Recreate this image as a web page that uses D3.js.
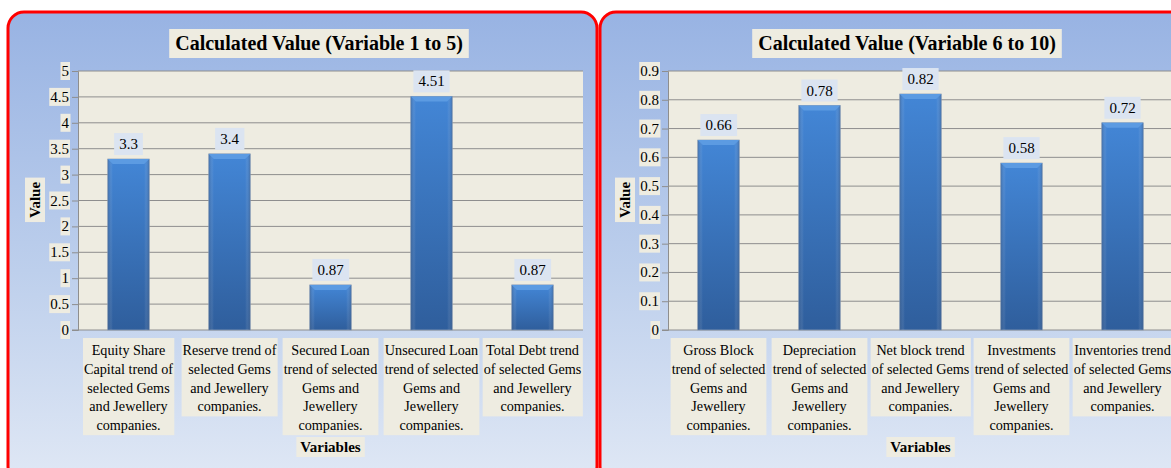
<!DOCTYPE html>
<html>
<head>
<meta charset="utf-8">
<script src="https://cdn.jsdelivr.net/npm/d3@7"></script>
<style>
  body { margin: 0; background: #fff; }
  svg { display: block; font-family: "Liberation Serif", "Times New Roman", serif; }
</style>
</head>
<body>
<div class="chartWrapper"></div>
<script>
const width = 1171, height = 468;

// data
const categoriesA = [
  ["Equity Share", "Capital trend of", "selected Gems", "and Jewellery", "companies."],
  ["Reserve trend of", "selected Gems", "and Jewellery", "companies."],
  ["Secured Loan", "trend of selected", "Gems and", "Jewellery", "companies."],
  ["Unsecured Loan", "trend of selected", "Gems and", "Jewellery", "companies."],
  ["Total Debt trend", "of selected Gems", "and Jewellery", "companies."]
];
const valuesA = [3.3, 3.4, 0.87, 4.51, 0.87];
const ticksA = [0, 0.5, 1, 1.5, 2, 2.5, 3, 3.5, 4, 4.5, 5];

const categoriesB = [
  ["Gross Block", "trend of selected", "Gems and", "Jewellery", "companies."],
  ["Depreciation", "trend of selected", "Gems and", "Jewellery", "companies."],
  ["Net block trend", "of selected Gems", "and Jewellery", "companies."],
  ["Investments", "trend of selected", "Gems and", "Jewellery", "companies."],
  ["Inventories trend", "of selected Gems", "and Jewellery", "companies."]
];
const valuesB = [0.66, 0.78, 0.82, 0.58, 0.72];
const ticksB = [0, 0.1, 0.2, 0.3, 0.4, 0.5, 0.6, 0.7, 0.8, 0.9];

const svg = d3.select(".chartWrapper").append("svg")
  .attr("width", width)
  .attr("height", height);

const defs = svg.append("defs");

const panelGrad = defs.append("linearGradient")
  .attr("id", "panelGrad").attr("x1", 0).attr("y1", 0).attr("x2", 0).attr("y2", 1);
panelGrad.append("stop").attr("offset", "0%").attr("stop-color", "#98b3e3");
panelGrad.append("stop").attr("offset", "55%").attr("stop-color", "#bdcfec");
panelGrad.append("stop").attr("offset", "100%").attr("stop-color", "#e0e8f5");

const barGrad = defs.append("linearGradient")
  .attr("id", "barGrad").attr("x1", 0).attr("y1", 0).attr("x2", 0).attr("y2", 1);
barGrad.append("stop").attr("offset", "0%").attr("stop-color", "#4386d6");
barGrad.append("stop").attr("offset", "100%").attr("stop-color", "#2f5e9c");

const barSide = defs.append("linearGradient")
  .attr("id", "barSide").attr("x1", 0).attr("y1", 0).attr("x2", 1).attr("y2", 0);
barSide.append("stop").attr("offset", "0%").attr("stop-color", "#1f3f6e").attr("stop-opacity", 0.35);
barSide.append("stop").attr("offset", "12%").attr("stop-color", "#ffffff").attr("stop-opacity", 0);
barSide.append("stop").attr("offset", "88%").attr("stop-color", "#ffffff").attr("stop-opacity", 0);
barSide.append("stop").attr("offset", "100%").attr("stop-color", "#1f3f6e").attr("stop-opacity", 0.35);

function textBox(g, x, y, str, opts) {
  const t = g.append("text")
    .attr("x", x).attr("y", y)
    .attr("text-anchor", opts.anchor || "middle")
    .attr("font-size", opts.size)
    .attr("font-weight", opts.weight || "normal")
    .attr("fill", "#000")
    .text(str);
  const bb = t.node().getBBox();
  g.insert("rect", () => t.node())
    .attr("x", bb.x - (opts.padX || 2)).attr("y", bb.y - (opts.padY || 1))
    .attr("width", bb.width + 2 * (opts.padX || 2))
    .attr("height", bb.height + 2 * (opts.padY || 1))
    .attr("fill", opts.fill);
  return t;
}

function drawPanel(p) {
  const g = svg.append("g");

  g.append("rect")
    .attr("x", p.boxX).attr("y", 12)
    .attr("width", p.boxW).attr("height", 470)
    .attr("rx", 16)
    .attr("fill", "url(#panelGrad)")
    .attr("stroke", "#ff0000").attr("stroke-width", 3);

  const x = d3.scaleBand()
    .domain(d3.range(p.values.length))
    .range([p.left, p.right])
    .paddingInner(0.59).paddingOuter(0.295);

  const y = d3.scaleLinear()
    .domain([0, d3.max(p.ticks)])
    .range([330, 71]);

  g.append("rect")
    .attr("x", p.left).attr("y", y.range()[1])
    .attr("width", p.right - p.left).attr("height", y.range()[0] - y.range()[1])
    .attr("fill", "#eeece1");

  g.append("g")
    .selectAll("line")
    .data(p.ticks.slice(1))
    .join("line")
    .attr("x1", p.left).attr("x2", p.right)
    .attr("y1", d => y(d)).attr("y2", d => y(d))
    .attr("stroke", "#8e8e8e").attr("stroke-width", 1);

  // y axis
  const yAxis = g.append("g")
    .attr("transform", `translate(${p.left},0)`)
    .call(d3.axisLeft(y).tickValues(p.ticks).tickSize(6).tickFormat(d3.format("~g")));
  yAxis.select(".domain").attr("stroke", "#8e8e8e");
  yAxis.selectAll(".tick line").attr("stroke", "#8e8e8e");
  yAxis.selectAll(".tick text").remove();
  p.ticks.forEach(t => {
    textBox(g, p.left - 9, y(t) + 5, d3.format("~g")(t), {
      anchor: "end", size: 15, fill: "#eeece1", padX: 1, padY: 0
    });
  });

  g.append("line")
    .attr("x1", p.left - 6).attr("x2", p.right)
    .attr("y1", y(0)).attr("y2", y(0))
    .attr("stroke", "#8e8e8e");

  // bars
  const bars = g.append("g").selectAll("g")
    .data(p.values)
    .join("g");

  bars.append("rect")
    .attr("x", (d, i) => x(i)).attr("y", d => y(d))
    .attr("width", x.bandwidth()).attr("height", d => y(0) - y(d))
    .attr("fill", "url(#barGrad)")
    .attr("stroke", "#8a9cb5").attr("stroke-width", 0.8);
  bars.append("rect")
    .attr("x", (d, i) => x(i)).attr("y", d => y(d))
    .attr("width", x.bandwidth()).attr("height", d => y(0) - y(d))
    .attr("fill", "url(#barSide)");
  bars.append("path")
    .attr("d", (d, i) => {
      const x0 = x(i), x1 = x(i) + x.bandwidth(), y0 = y(d);
      return `M${x0},${y0}L${x1},${y0}L${x1 - 5},${y0 + 5}L${x0 + 5},${y0 + 5}Z`;
    })
    .attr("fill", "#5c9be2");

  p.values.forEach((v, i) => {
    textBox(g, x(i) + x.bandwidth() / 2, y(v) - 10, d3.format("~g")(v), {
      size: 15, fill: "#dbe4f1", padX: 5, padY: 3
    });
  });

  // category labels
  const lineH = 18.8;
  p.cats.forEach((lines, i) => {
    const cx = x(i) + x.bandwidth() / 2;
    const lg = g.append("g");
    const t = lg.append("text")
      .attr("text-anchor", "middle")
      .attr("font-size", 14.2)
      .attr("fill", "#000");
    lines.forEach((ln, k) => {
      t.append("tspan").attr("x", cx).attr("y", 355 + k * lineH).text(ln);
    });
    const bb = t.node().getBBox();
    lg.insert("rect", "text")
      .attr("x", bb.x - 1).attr("y", 338)
      .attr("width", bb.width + 2).attr("height", bb.y + bb.height - 338 + 2)
      .attr("fill", "#eeece1");
  });

  // titles
  textBox(g, p.titleX, 50, p.title, {
    size: 20, weight: "bold", fill: "#eeece1", padX: 6, padY: 3
  });
  textBox(g, (p.left + p.right) / 2, 452, "Variables", {
    size: 15, weight: "bold", fill: "#eeece1", padX: 4, padY: 2
  });
  const yt = g.append("g").attr("transform", `translate(${p.left - 38},200) rotate(-90)`);
  textBox(yt, 0, 0, "Value", { size: 15, weight: "bold", fill: "#eeece1", padX: 4, padY: 2 });
}

drawPanel({
  boxX: 8, boxW: 589, left: 78, right: 583,
  values: valuesA, cats: categoriesA, ticks: ticksA,
  title: "Calculated Value (Variable  1 to 5)", titleX: 319
});

drawPanel({
  boxX: 600, boxW: 600, left: 668, right: 1173,
  values: valuesB, cats: categoriesB, ticks: ticksB,
  title: "Calculated Value (Variable  6 to 10)", titleX: 907
});
</script>
</body>
</html>
